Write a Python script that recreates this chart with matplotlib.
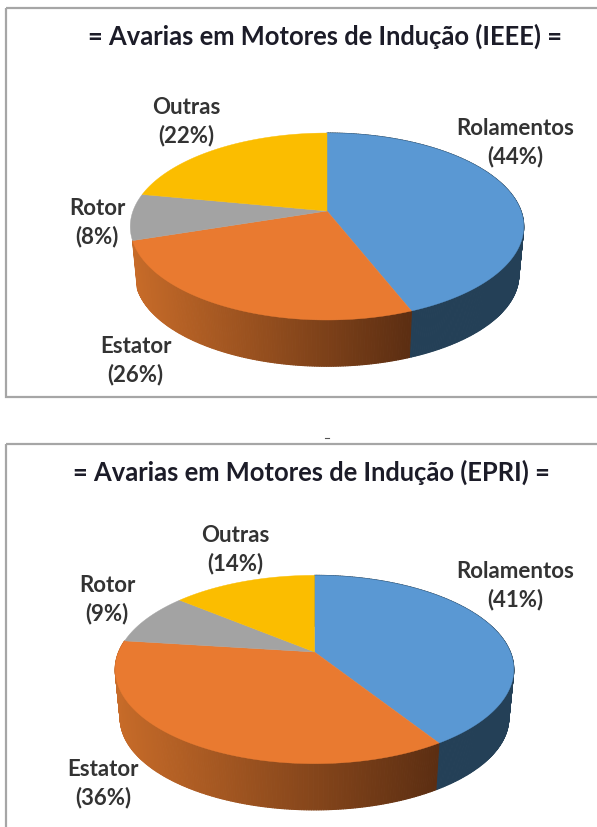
import numpy as np
import matplotlib
matplotlib.use("Agg")
import matplotlib.pyplot as plt
from matplotlib.collections import PolyCollection
from matplotlib.patches import Rectangle

# dados
categories = ["Rolamentos", "Estator", "Rotor", "Outras"]
values_ieee = [44, 26, 8, 22]
values_epri = [41, 36, 9, 14]
title_ieee = "= Avarias em Motores de Indução (IEEE) ="
title_epri = "= Avarias em Motores de Indução (EPRI) ="

top_colors = ["#5A98D3", "#E97A30", "#A3A3A3", "#FBBD00"]
# cor lateral: inicio e fim do gradiente (None = lateral nao aparece)
side_colors = [
    ((0.14, 0.25, 0.34), (0.14, 0.25, 0.34)),
    ((0.78, 0.42, 0.16), (0.36, 0.18, 0.07)),
    None,
    None,
]

fig = plt.figure(figsize=(5.97, 8.27), dpi=100)
ax = fig.add_axes([0, 0, 1, 1])
ax.set_xlim(0, 597)
ax.set_ylim(827, 0)
ax.axis("off")


# circulo unitario -> elipse em perspectiva (o apice fica acima do centro)
def rim(theta, rx, ry, k):
    u = np.sin(theta)
    v = np.cos(theta)
    w = 1 + k * v
    return rx * u / w, -ry * v / w


def draw_pie(values, apex, rx, ry, k, depth=49, shrink=0.975):
    cuts = np.radians(np.cumsum([0] + values) * 3.6)
    # primeiro as laterais
    for i in range(len(values)):
        if side_colors[i] is None:
            continue
        n = max(int(values[i]) * 6, 12)
        theta = np.linspace(cuts[i], cuts[i + 1], n)
        x, y = rim(theta, rx, ry, k)
        xb = x * shrink
        yb = y * shrink + depth
        frac = (x - x.min()) / (x.max() - x.min())
        # gradiente da esquerda para a direita
        c0 = np.array(side_colors[i][0])
        c1 = np.array(side_colors[i][1])
        quads = []
        cols = []
        for j in range(n - 1):
            quads.append([
                (apex[0] + x[j], apex[1] + y[j]),
                (apex[0] + x[j + 1], apex[1] + y[j + 1]),
                (apex[0] + xb[j + 1], apex[1] + yb[j + 1]),
                (apex[0] + xb[j], apex[1] + yb[j]),
            ])
            cols.append(c0 + (c1 - c0) * frac[j])
        ax.add_collection(PolyCollection(quads, facecolors=cols, edgecolors="face", linewidths=0.8, zorder=2))
    # depois o topo
    for i in range(len(values)):
        n = max(int(values[i]) * 6, 12)
        theta = np.linspace(cuts[i], cuts[i + 1], n)
        x, y = rim(theta, rx, ry, k)
        ax.fill(np.r_[apex[0], apex[0] + x], np.r_[apex[1], apex[1] + y],
                color=top_colors[i], lw=0.3, zorder=3)


def draw_labels(values, positions):
    for cat, val, pos in zip(categories, values, positions):
        ax.text(pos[0], pos[1], f"{cat}\n({val}%)", ha="center", va="center",
                fontsize=16, fontweight="bold", family="Lato", color="#333333",
                linespacing=1.38, zorder=4)


# molduras
ax.add_patch(Rectangle((5.5, 7.5), 620, 389, fill=False, ec="#a6a6a6", lw=1.6, zorder=1))
ax.add_patch(Rectangle((5.5, 444), 620, 420, fill=False, ec="#a6a6a6", lw=1.6, zorder=1))
ax.plot([325, 329], [438, 438], color="#555555", lw=0.8)

ax.text(325, 36, title_ieee, ha="center", va="center", fontsize=18.4, fontweight="bold",
        family="Lato", color="#1c1c28")
ax.text(311, 472, title_epri, ha="center", va="center", fontsize=18.4, fontweight="bold",
        family="Lato", color="#1c1c28")

draw_pie(values_ieee, (327, 211), 194, 90.9, 0.166)
draw_labels(values_ieee, [(515, 142.5), (135.5, 360.5), (97, 222.5), (186, 121.5)])

draw_pie(values_epri, (314.5, 652), 195.8, 90.9, 0.186)
draw_labels(values_epri, [(515, 585.5), (103, 783.5), (107, 599.5), (235, 549.5)])

fig.savefig("out.png", dpi=100)
